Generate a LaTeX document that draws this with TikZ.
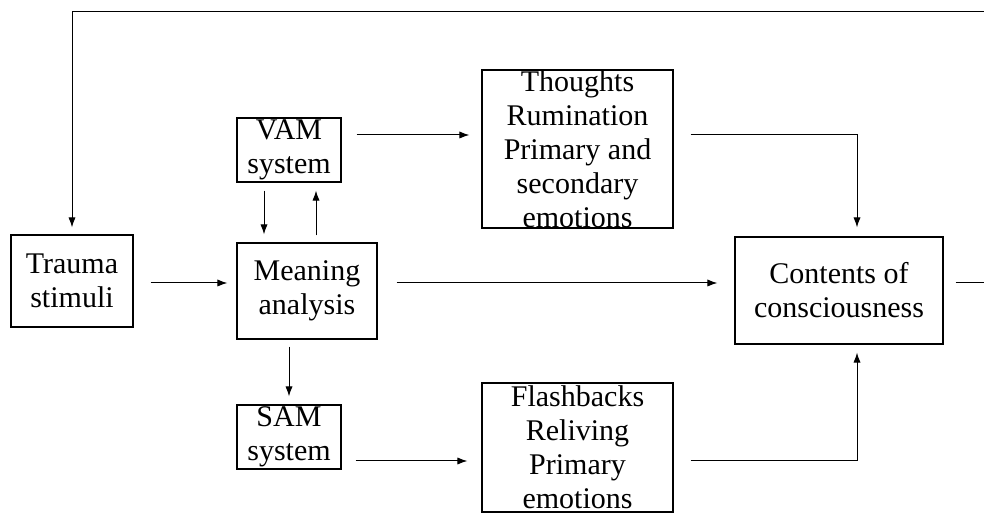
\documentclass[tikz,border=0pt]{standalone}
\usepackage{fontspec}
\setmainfont{Liberation Serif}
\usetikzlibrary{arrows.meta}

\tikzset{
  blk/.style={draw, line width=0.6pt, align=center, inner sep=0pt,
    font=\fontsize{15}{17}\selectfont},
  arr/.style={-{Latex[length=5pt,width=3.6pt]}, line width=0.5pt}
}

\begin{document}
\begin{tikzpicture}[x=0.5pt, y=-0.5pt]
  \clip (0,0) rectangle (984,528);

  % boxes
  \node[blk, minimum width=61pt, minimum height=46pt] (trauma) at (72,281) {Trauma\\stimuli};
  \node[blk, minimum width=52pt, minimum height=32pt] (vam) at (289,150) {VAM\\system};
  \node[blk, minimum width=70pt, minimum height=48pt] (mean) at (307,291) {Meaning\\analysis};
  \node[blk, minimum width=52pt, minimum height=32pt] (sam) at (289,437) {SAM\\system};
  \node[blk, minimum width=95.5pt, minimum height=79pt] (thought) at (577.5,149)
    {Thoughts\\Rumination\\Primary and\\secondary\\emotions};
  \node[blk, minimum width=95.5pt, minimum height=64.5pt] (flash) at (577.5,447.5)
    {Flashbacks\\Reliving\\Primary\\emotions};
  \node[blk, minimum width=104pt, minimum height=53.5pt] (cons) at (839,290.5)
    {Contents of\\consciousness};

  % reference rows and columns for the connectors
  \coordinate (midrow) at (0,283);
  \coordinate (toprow) at (0,135);
  \coordinate (botrow) at (0,461);
  \coordinate (fbtop) at (1000,12);
  \coordinate (joinx) at (857,0);
  \coordinate (downx) at (264,0);
  \coordinate (upx) at (316,0);

  % main flow
  \draw[arr, shorten <=8.5pt, shorten >=4.5pt] (trauma.east |- midrow) -- (mean.west |- midrow);
  \draw[arr, shorten <=9.5pt, shorten >=8.5pt] (mean.east |- midrow) -- (cons.west |- midrow);

  % verbal path
  \draw[arr, shorten <=7.5pt, shorten >=6pt] (vam.east |- toprow) -- (thought.west |- toprow);
  \draw[arr, shorten <=4pt, shorten >=4pt] (downx |- vam.south) -- (downx |- mean.north);
  \draw[arr, shorten <=3.5pt, shorten >=4pt] (upx |- mean.north) -- (upx |- vam.south);
  \draw[arr, shorten <=8.5pt, shorten >=4.5pt] (thought.east |- toprow) -| (joinx |- cons.north);

  % situational path
  \draw[arr, shorten <=3.5pt, shorten >=4pt] (mean.south -| sam.north) -- (sam.north);
  \draw[arr, shorten <=7pt, shorten >=7pt] (sam.east |- botrow) -- (flash.west |- botrow);
  \draw[arr, shorten <=8.5pt, shorten >=4pt] (flash.east |- botrow) -| (joinx |- cons.south);

  % feedback loop
  \draw[arr, shorten <=6pt, shorten >=3.5pt] (cons.east |- midrow) -| (fbtop) -| (trauma.north);
\end{tikzpicture}
\end{document}
